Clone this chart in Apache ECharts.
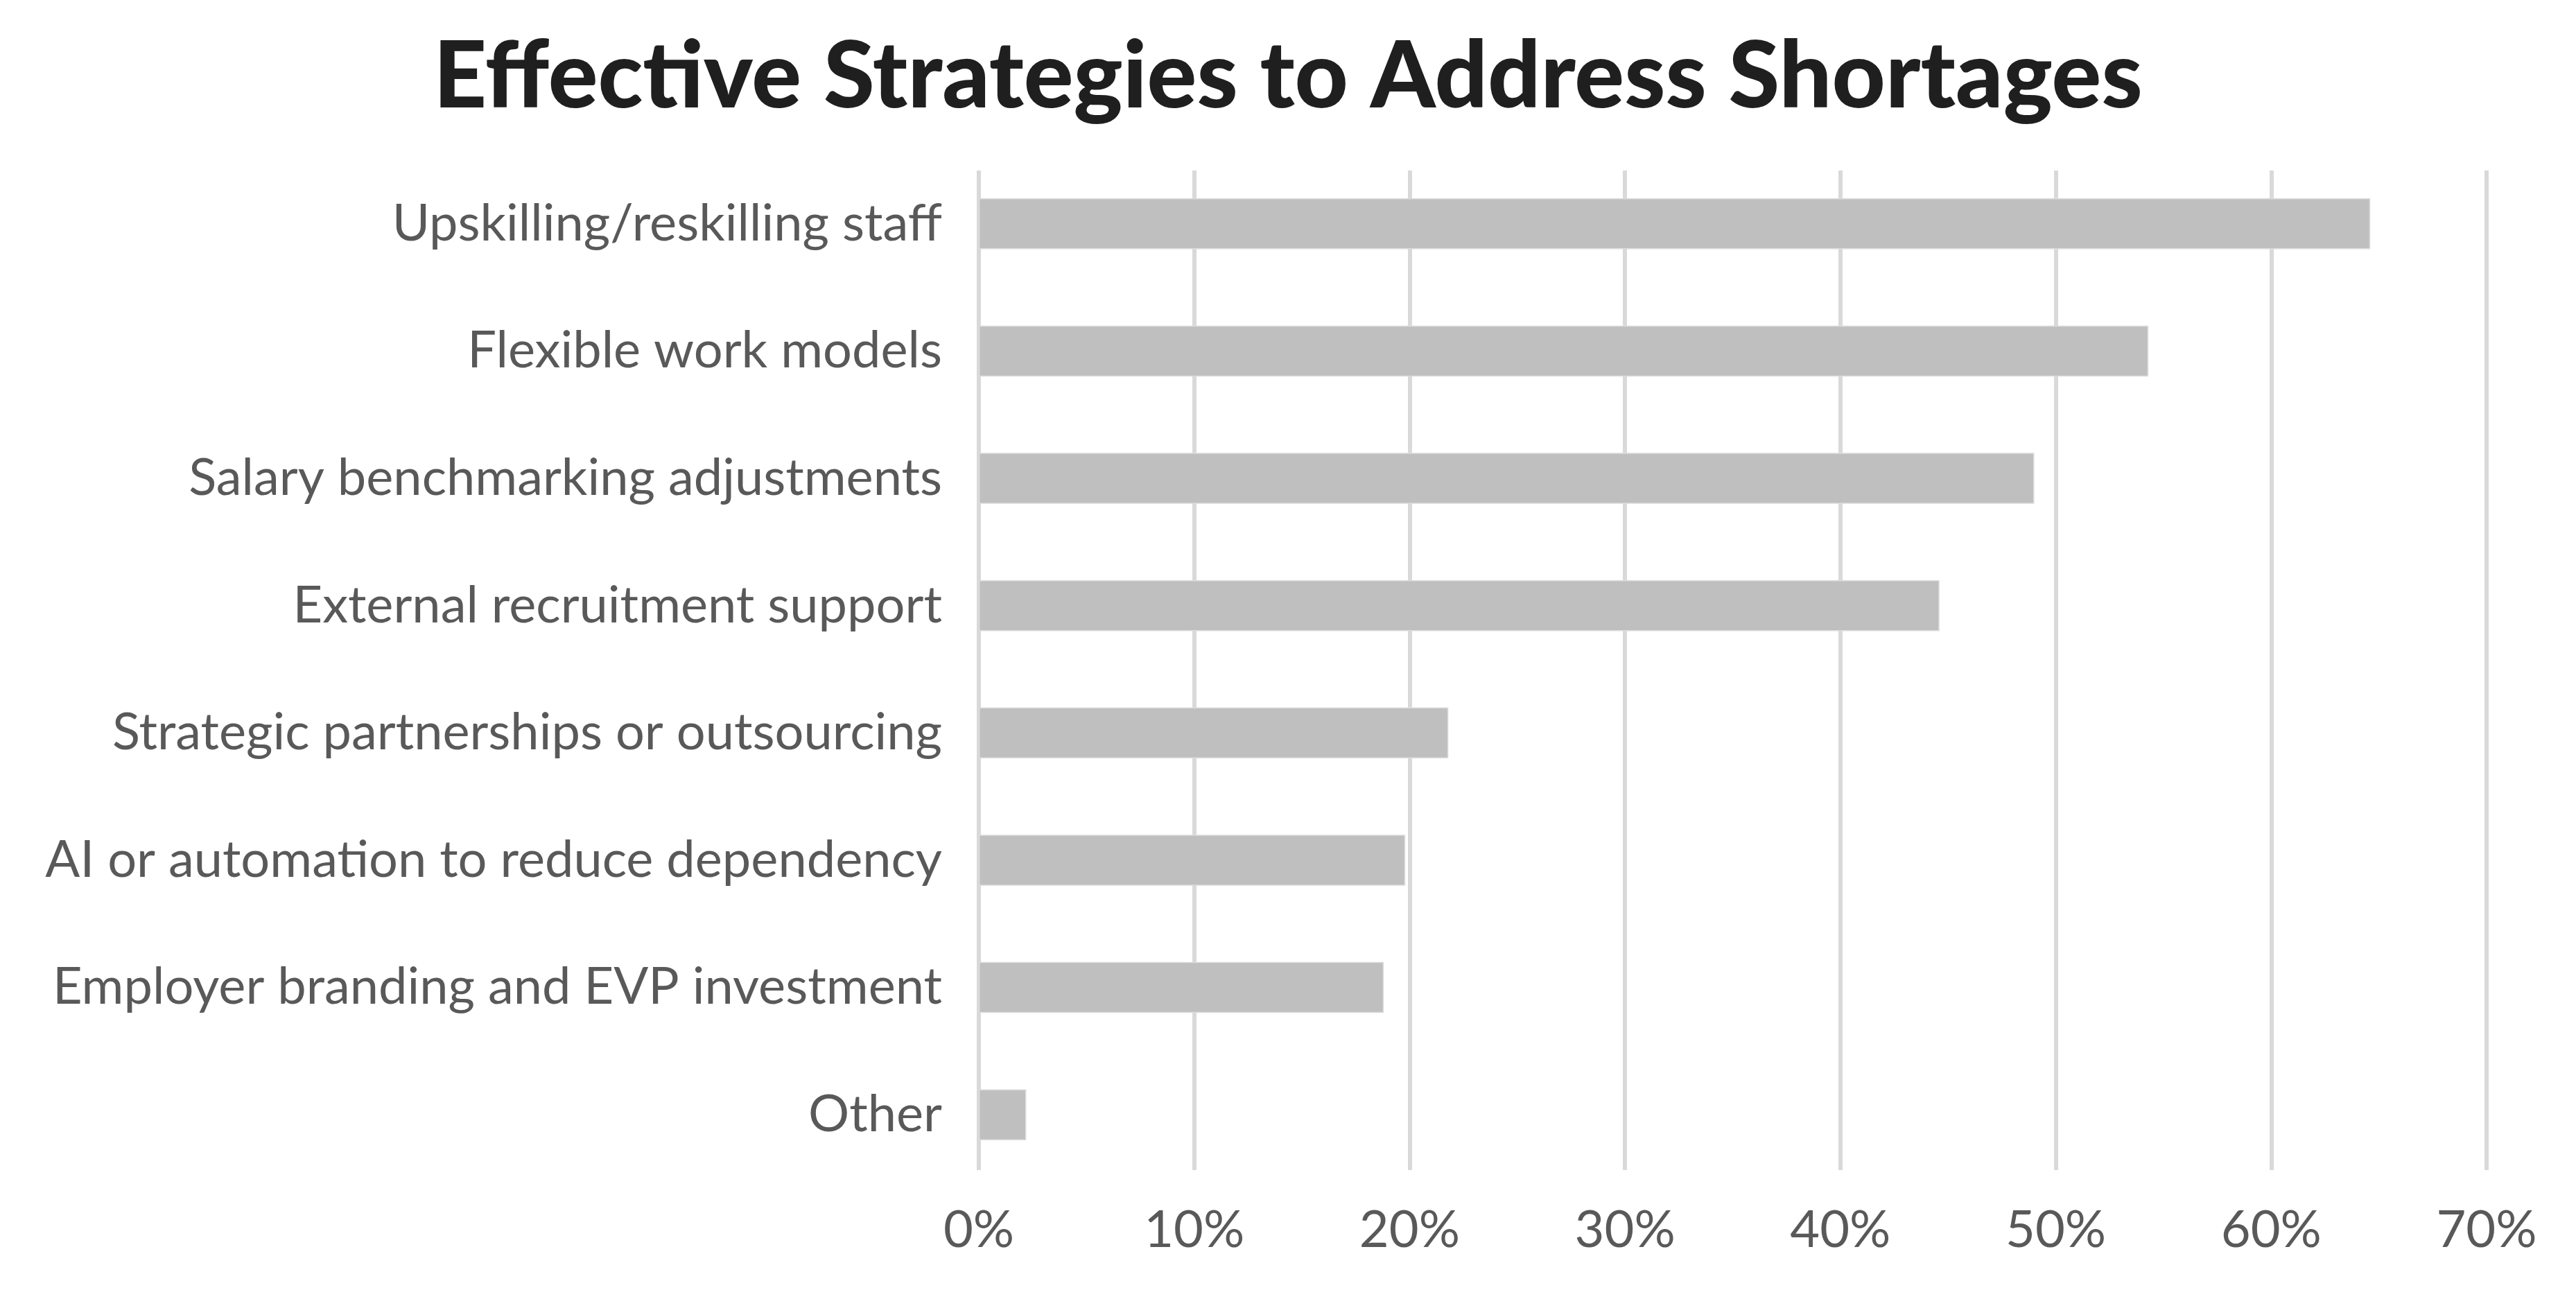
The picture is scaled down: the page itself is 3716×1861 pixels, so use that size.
<!DOCTYPE html>
<html>
<head>
<meta charset="utf-8">
<script src="https://cdn.jsdelivr.net/npm/echarts@6/dist/echarts.min.js"></script>
<style>
html,body{margin:0;padding:0;background:#fff;}
#chart{width:3716px;height:1861px;}
</style>
</head>
<body>
<div id="chart"></div>
<script>
const titleText = 'Effective Strategies to Address Shortages';
const categories = [
  'Upskilling/reskilling staff',
  'Flexible work models',
  'Salary benchmarking adjustments',
  'External recruitment support',
  'Strategic partnerships or outsourcing',
  'AI or automation to reduce dependency',
  'Employer branding and EVP investment',
  'Other'
];
const values = [64.6, 54.3, 49.0, 44.6, 21.8, 19.8, 18.8, 2.2];
const axisMin = 0, axisMax = 70, axisStep = 10;

const chart = echarts.init(document.getElementById('chart'), null, {renderer: 'canvas'});
const font = 'Lato, "Noto Sans", sans-serif';
chart.setOption({
  backgroundColor: '#ffffff',
  animation: false,
  title: {
    text: titleText,
    left: 'center',
    top: 40,
    textStyle: {fontFamily: font, fontWeight: 900, fontSize: 134, color: '#1f1f1f'}
  },
  grid: [
    {left: 1412, right: 129, top: 231, bottom: 161, containLabel: false},
    {left: 1412, right: 129, top: 246, bottom: 173, containLabel: false}
  ],
  xAxis: [
    {
      type: 'value', gridIndex: 0, min: axisMin, max: axisMax, interval: axisStep,
      axisLine: {show: false}, axisTick: {show: false}, splitLine: {show: false},
      axisLabel: {formatter: '{value}%', fontFamily: font, fontSize: 74, color: '#595959', margin: 38}
    },
    {
      type: 'value', gridIndex: 1, min: axisMin, max: axisMax, interval: axisStep,
      axisLine: {show: false}, axisTick: {show: false}, axisLabel: {show: false},
      splitLine: {show: true, lineStyle: {color: '#d9d9d9', width: 6}}
    }
  ],
  yAxis: [
    {
      type: 'category', gridIndex: 0, data: categories, inverse: true,
      axisLine: {show: false}, axisTick: {show: false}, splitLine: {show: false},
      axisLabel: {fontFamily: font, fontSize: 74, color: '#595959', margin: 53}
    },
    {
      type: 'category', gridIndex: 1, data: categories, inverse: true, show: false
    }
  ],
  series: [{
    type: 'bar',
    xAxisIndex: 0, yAxisIndex: 0,
    data: values,
    barCategoryGap: '60%',
    itemStyle: {color: '#bfbfbf', borderColor: '#dcdcdc', borderWidth: 1.5},
    z: 5
  }]
});
</script>
</body>
</html>
